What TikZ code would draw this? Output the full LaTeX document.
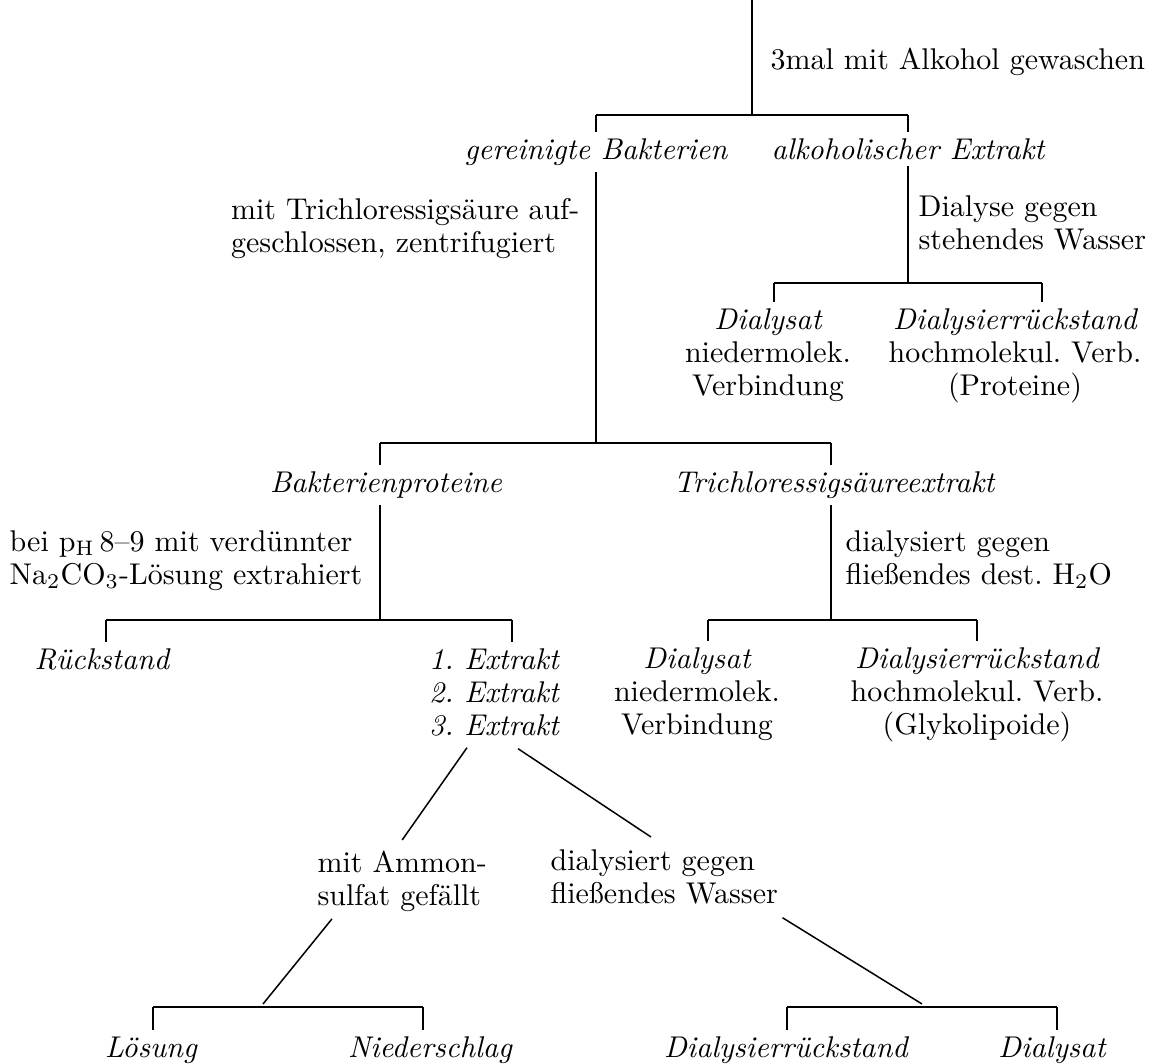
\documentclass[tikz,border=0pt]{standalone}
\usepackage{fontspec}
\usetikzlibrary{calc,
  positioning
}
\newcommand{\treefont}{\fontsize{10}{11}\selectfont\frenchspacing}
\tikzstyle{tree} = [line width=0.65]
\tikzstyle{tick} = [line width=0.45]
\tikzstyle{diag} = [line width=0.5]
\tikzstyle{prod} = [font=\treefont\itshape, inner sep=2pt, anchor=north]
\tikzstyle{blk} = [font=\treefont, align=center, inner sep=2pt, anchor=north]
\tikzstyle{proc} = [font=\treefont, align=left, inner sep=0pt]

\begin{document}
\begin{tikzpicture}[x=0.3333pt, y=-0.3333pt]
  \useasboundingbox (0,0) rectangle (1154,1064);

  % washing
  \coordinate (top) at (752,0);
  \coordinate (b1l) at (596,115);
  \coordinate (b1r) at (908,115);
  \node[proc, anchor=west] (wash) at (770,62) {3mal mit Alkohol gewaschen};
  \node[prod] (gb) at (596,132) {gereinigte Bakterien};
  \node[prod] (ae) at (908,132) {alkoholischer Extrakt};
  \draw[tree] (top) -- (top |- b1l);
  \draw[tree] (b1l) -- (b1r);
  \draw[tick] (b1l) -- (gb.north);
  \draw[tick] (b1r) -- (ae.north);

  % alcoholic extract
  \coordinate (b3l) at (774,283);
  \coordinate (b3r) at (1042,283);
  \node[proc, anchor=north west] (dia1) at (918,195) {Dialyse gegen\\stehendes Wasser};
  \node[blk] (ds1) at (768,302) {{\itshape Dialysat}\\niedermolek.\\Verbindung};
  \node[blk] (dr1) at (1015,302) {{\itshape Dialysierrückstand}\\hochmolekul. Verb.\\(Proteine)};
  \draw[tree] (ae.south) -- (ae.south |- b3l);
  \draw[tree] (b3l) -- (b3r);
  \draw[tick] (b3l) -- (b3l |- ds1.north);
  \draw[tick] (b3r) -- (b3r |- dr1.north);

  % trichloroacetic acid
  \coordinate (b2l) at (380,443);
  \coordinate (b2r) at (831,443);
  \node[proc, anchor=north east] (tca) at (580,198) {mit Trichloressigsäure auf-\\geschlossen, zentrifugiert};
  \node[prod] (bp) at (386,465) {Bakterienproteine};
  \node[prod] (te) at (834,465) {Trichloressigsäureextrakt};
  \draw[tree] (gb.south) -- (gb.south |- b2l);
  \draw[tree] (b2l) -- (b2r);
  \draw[tick] (b2l) -- (b2l |- bp.north);
  \draw[tick] (b2r) -- (b2r |- te.north);

  % soda extraction
  \coordinate (b4l) at (106,620);
  \coordinate (b4r) at (512,620);
  \node[proc, anchor=north east] (soda) at (363,530) {bei p$_\mathrm{H}$\,8--9 mit verdünnter\\Na$_2$CO$_3$-Lösung extrahiert};
  \node[prod] (rs) at (102,642) {Rückstand};
  \node[blk, font=\treefont\itshape] (ex) at (494,642) {1. Extrakt\\2. Extrakt\\3. Extrakt};
  \draw[tree] (b2l |- bp.south) -- (b2l |- b4l);
  \draw[tree] (b4l) -- (b4r);
  \draw[tick] (b4l) -- (b4l |- rs.north);
  \draw[tick] (b4r) -- (b4r |- ex.north);

  % dialysis of the extract
  \coordinate (b5l) at (708,620);
  \coordinate (b5r) at (977,620);
  \node[proc, anchor=north west] (dia2) at (845,530) {dialysiert gegen\\fließendes dest. H$_2$O};
  \node[blk] (ds2) at (697,641) {{\itshape Dialysat}\\niedermolek.\\Verbindung};
  \node[blk] (dr2) at (977,641) {{\itshape Dialysierrückstand}\\hochmolekul. Verb.\\(Glykolipoide)};
  \draw[tree] (b2r |- te.south) -- (b2r |- b5l);
  \draw[tree] (b5l) -- (b5r);
  \draw[tick] (b5l) -- (b5l |- ds2.north);
  \draw[tick] (b5r) -- (b5r |- dr2.north);

  % extracts
  \node[proc, anchor=north west] (amm) at (317,850) {mit Ammon-\\sulfat gefällt};
  \node[proc, anchor=north west] (dia3) at (550,849) {dialysiert gegen\\fließendes Wasser};
  \draw[diag] ($(ex.south)+(-27,5)$) -- ($(amm.north)+(0,-10)$);
  \draw[diag] ($(ex.south)+(24,6)$) -- ($(dia3.north west)+(101,-12)$);

  % ammonium sulfate
  \coordinate (b6l) at (153,1007);
  \coordinate (b6r) at (423,1007);
  \node[prod] (lsg) at (151,1030) {Lösung};
  \node[prod] (ns) at (430,1030) {Niederschlag};
  \draw[diag] ($(amm.south west)+(15,7)$) -- (263,1004);
  \draw[tree] (b6l) -- (b6r);
  \draw[tick] (b6l) -- (b6l |- lsg.north);
  \draw[tick] (b6r) -- (b6r |- ns.north);

  % running water
  \coordinate (b7l) at (787,1007);
  \coordinate (b7r) at (1057,1007);
  \node[prod] (dr3) at (786,1030) {Dialysierrückstand};
  \node[prod] (ds3) at (1052,1030) {Dialysat};
  \draw[diag] ($(dia3.south east)+(4,13)$) -- (922,1004);
  \draw[tree] (b7l) -- (b7r);
  \draw[tick] (b7l) -- (b7l |- dr3.north);
  \draw[tick] (b7r) -- (b7r |- ds3.north);
\end{tikzpicture}
\end{document}
